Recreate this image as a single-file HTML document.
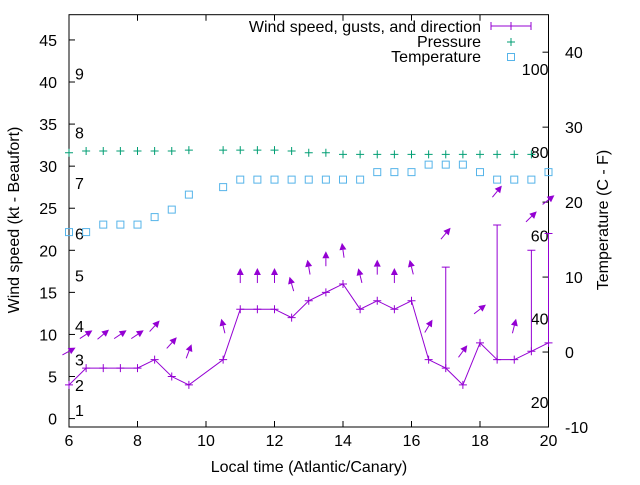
<!DOCTYPE html>
<html><head><meta charset="utf-8"><style>
body{margin:0;background:#fff}
svg text{font-family:"Liberation Sans",sans-serif;font-size:16px;fill:#000}
</style></head><body>
<svg id="c" width="640" height="480" viewBox="0 0 640 480" xmlns="http://www.w3.org/2000/svg"></svg>
<script>
const times=[6,6.5,7,7.5,8,8.5,9,9.5,10.5,11,11.5,12,12.5,13,13.5,14,14.5,15,15.5,16,16.5,17,17.5,18,18.5,19,19.5,20];
const windSpeed=[4,6,6,6,6,7,5,4,7,13,13,13,12,14,15,16,13,14,13,14,7,6,4,9,7,7,8,9];
const gusts=[null,null,null,null,null,null,null,null,null,null,null,null,null,null,null,null,null,null,null,null,null,18,null,null,23,null,20,22];
const windDir=[61,57,50,56,56,42,42,21,-14,0,0,0,-16,-10,0,-8,-14,0,0,-14,31,40,36,52,39,14,46,52];
const presTimes=[6,6.5,7,7.5,8,8.5,9,9.5,10.5,11,11.5,12,12.5,13,13.5,14,14.5,15,15.5,16,16.5,17,17.5,18,18.5,19,19.5];
const pressure=[31.6,31.8,31.8,31.8,31.8,31.8,31.8,31.9,31.9,31.9,31.9,31.9,31.8,31.6,31.6,31.4,31.4,31.4,31.4,31.4,31.4,31.4,31.4,31.4,31.4,31.4,31.4];
const temperature=[16,16,17,17,17,18,19,21,22,23,23,23,23,23,23,23,23,24,24,24,25,25,25,24,23,23,23,24];
const xTicks=[6,8,10,12,14,16,18,20];
const yTicks=[0,5,10,15,20,25,30,35,40,45];
const y2Ticks=[-10,0,10,20,30,40];
const fTicks=[20,40,60,80,100];
const beaufortKt=[1,4,7,11,17,22,28,34,41];
const beaufortLbl=["1","2","3","4","5","6","7","8","9"];

const L=69,R=548.5,T=14.7,B=427;
const X=t=>L+(t-6)/14*(R-L);
const Y=v=>B-(v+1)/49*(B-T);
const Y2=c=>B-(c+10)/55*(B-T);
const svg=document.getElementById('c');
const NS='http://www.w3.org/2000/svg';
function mk(tag,at,name,parent){const e=document.createElementNS(NS,tag);for(const k in at)e.setAttribute(k,at[k]);


(parent||svg).appendChild(e);return e;}
function txt(x,y,s,anchor,name,extra){const e=mk('text',Object.assign({x:x,y:y,'text-anchor':anchor||'start'},extra||{}),name);e.textContent=s;return e;}
const P='#9400d3',G='#009e73',C='#56b4e9';

mk('rect',{x:L,y:T,width:R-L,height:B-T,fill:'none',stroke:'#000','stroke-width':1},'plot-frame');
xTicks.forEach(t=>{const x=X(t);mk('line',{x1:x,y1:B,x2:x,y2:B-6,stroke:'#000'},'x-tick');mk('line',{x1:x,y1:T,x2:x,y2:T+6,stroke:'#000'},'x-tick-top');
txt(x,446,String(t),'middle','x-tick-label');});
yTicks.forEach(v=>{const y=Y(v);mk('line',{x1:L,y1:y,x2:L+6,y2:y,stroke:'#000'},'y-tick');txt(57,y+6,String(v),'end','y-tick-label');});
y2Ticks.forEach(c=>{const y=Y2(c);mk('line',{x1:R,y1:y,x2:R-6,y2:y,stroke:'#000'},'y2-tick');txt(565,y+6,String(c),'start','y2-tick-label');});
fTicks.forEach(f=>{const y=Y2((f-32)*5/9);txt(R,y+6,String(f),'end','fahrenheit-label');});
beaufortKt.forEach((k,i)=>{txt(75,Y(k)+6,beaufortLbl[i],'start','beaufort-label');});
txt(309,472,'Local time (Atlantic/Canary)','middle','x-axis-title');
txt(0,0,'Wind speed (kt - Beaufort)','middle','y-axis-title',{transform:'translate(19,220) rotate(-90)'});
txt(0,0,'Temperature (C - F)','middle','y2-axis-title',{transform:'translate(608,220) rotate(-90)'});

presTimes.forEach((t,i)=>{const x=X(t),y=Y(pressure[i]);
mk('path',{d:`M${x-4},${y}H${x+4}M${x},${y-4}V${y+4}`,stroke:G,fill:'none'},'pressure-point');});
times.forEach((t,i)=>{const x=X(t),y=Y2(temperature[i]);
mk('rect',{x:x-3.5,y:y-3.5,width:7,height:7,fill:'none',stroke:C},'temperature-point');});
mk('polyline',{points:times.map((t,i)=>X(t)+','+Y(windSpeed[i])).join(' '),fill:'none',stroke:P},'wind-speed-line');
times.forEach((t,i)=>{const x=X(t),y=Y(windSpeed[i]);
mk('path',{d:`M${x-4},${y}H${x+4}M${x},${y-4}V${y+4}`,stroke:P,fill:'none'},'wind-point');
if(gusts[i]!=null){const yg=Y(gusts[i]);
mk('path',{d:`M${x},${y}V${yg}M${x-4},${yg}H${x+4}`,stroke:P,fill:'none'},'gust-bar');}
const top=Math.max(windSpeed[i],gusts[i]||0)+4;const cx=x,cy=Y(top);
const a=windDir[i]*Math.PI/180,dx=Math.sin(a),dy=-Math.cos(a),h=7.5;
const x0=cx-dx*h,y0=cy-dy*h,x1=cx+dx*h,y1=cy+dy*h;
const bx=x1-dx*7,by=y1-dy*7,px=-dy,py=dx;
mk('line',{x1:x0,y1:y0,x2:bx,y2:by,stroke:P},'wind-direction-shaft');
mk('polygon',{points:`${x1},${y1} ${bx+px*3.5},${by+py*3.5} ${bx-px*3.5},${by-py*3.5}`,fill:P},'wind-direction-head');});

txt(481,32,'Wind speed, gusts, and direction','end','legend-wind-label');
mk('path',{d:'M491,26H531M491,22V30M531,22V30M511,22V30',stroke:P,fill:'none'},'legend-wind-sample');
txt(481,47,'Pressure','end','legend-pressure-label');
mk('path',{d:'M507,42H515M511,38V46',stroke:G,fill:'none'},'legend-pressure-sample');
txt(481,62,'Temperature','end','legend-temperature-label');
mk('rect',{x:507.5,y:53.5,width:7,height:7,fill:'none',stroke:C},'legend-temperature-sample');
</script>
</body></html>
